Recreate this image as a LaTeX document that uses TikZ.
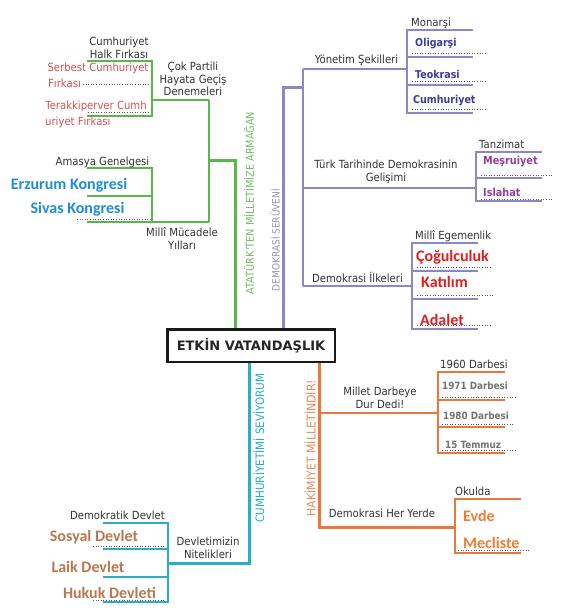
\documentclass[tikz,border=0pt]{standalone}
\usepackage{fontspec}
\setmainfont{DejaVu Sans}
\newfontfamily\nrw[FakeStretch=0.9]{DejaVu Sans}
\newfontfamily\nrwb[FakeStretch=0.88]{DejaVu Sans Bold}
\newfontfamily\calb{Carlito Bold}
\definecolor{txt}{RGB}{51,51,51}
\definecolor{grn}{RGB}{88,184,78}
\definecolor{grnl}{RGB}{110,190,100}
\definecolor{pur}{RGB}{140,136,200}
\definecolor{purl}{RGB}{150,146,200}
\definecolor{navy}{RGB}{60,60,160}
\definecolor{mag}{RGB}{150,60,160}
\definecolor{rd}{RGB}{225,30,30}
\definecolor{rdl}{RGB}{215,80,80}
\definecolor{blu}{RGB}{30,140,215}
\definecolor{cyn}{RGB}{40,175,200}
\definecolor{brn}{RGB}{185,120,80}
\definecolor{org}{RGB}{232,120,60}
\definecolor{orgt}{RGB}{238,125,50}
\definecolor{gry}{RGB}{115,115,115}
\definecolor{dotc}{RGB}{90,90,90}
\begin{document}
\begin{tikzpicture}[x=1pt,y=-1pt,
  every node/.style={inner sep=0pt,text=txt},
  nt/.style={font=\nrw\fontsize{11.2}{12.8}\selectfont},
  bt/.style={font=\nrwb\fontsize{#1}{14}\selectfont},
  ct/.style={font=\calb\fontsize{16}{18}\selectfont},
  rot/.style={rotate=90,font=\nrw\fontsize{#1}{12}\selectfont},
  trunk/.style={line width=3pt},
  branch/.style={line width=2.2pt},
  leaf/.style={line width=1.3pt},
  dots/.style={dotc,dotted,line width=0.6pt},
]
\fill[white] (0,0) rectangle (568,610);
\useasboundingbox (0,0) rectangle (568,610);

% central box (placed first for anchors, redrawn later on top)
\path node[minimum width=167.5pt,minimum height=32.5pt] (box) at (251,345.5) {};

% ---------- green branch ----------
\coordinate (gJ) at (235,160);
\coordinate (gA) at (209,100);
\coordinate (gB) at (209,222);
\draw[grn,trunk] (gJ |- box.north) -- (gJ) -- (gJ -| gA);
\draw[grn,line width=2.6pt] (gA) -- (gB);
\draw[grn,branch] (gA) -- (152,100);
\draw[grn,branch] (gB) -- (152,222);
\draw[grn,leaf] (87,61) -- (152,61) -- (152,116) -- (87,116);
\draw[grn,leaf] (87,168) -- (152,168) -- (152,222) -- (87,222);
\draw[grn,leaf] (87,196) -- (152,196);
\draw[dots] (83,84) -- (150,84);
\draw[dots] (88,112) -- (150,112);
\draw[dots] (77,219) -- (150,219);

\node[nt,align=center] (chf) at (119,48) {Cumhuriyet\\Halk Fırkası};
\node[nt,text=rdl] (scf1) at (98,68) {Serbest Cumhuriyet};
\node[nt,text=rdl,anchor=west] (scf2) at (48,83) {Fırkası};
\node[nt,text=rdl] (tcf1) at (96,106) {Terakkiperver Cumh};
\node[nt,text=rdl,anchor=west] (tcf2) at (45,122) {uriyet Fırkası};
\node[nt,align=center] (cok) at (193,79) {Çok Partili\\Hayata Geçiş\\Denemeleri};
\node[nt] (amasya) at (102.5,162) {Amasya Genelgesi};
\node[ct,text=blu] (erz) at (69,185) {Erzurum Kongresi};
\node[ct,text=blu] (sivas) at (77.5,209) {Sivas Kongresi};
\node[nt,align=center] (mmy) at (182,238.5) {Millî Mücadele\\Yılları};
\node[rot=10.8,text=grnl] (ata) at (249,203) {ATATÜRK'TEN MİLLETİMİZE ARMAĞAN};

% ---------- purple branch ----------
\coordinate (pT) at (283,87);
\coordinate (pI) at (303,87);
\draw[pur,trunk] (pT |- box.north) -- (pT) -- (pI);
\draw[pur,line width=2.5pt] (303,69) -- (303,286);
\draw[pur,branch] (303,69) -- (407,69);
\draw[pur,branch] (303,188) -- (476,188);
\draw[pur,branch] (303,286) -- (412,286);
\draw[pur,leaf] (473,30) -- (407,30) -- (407,113) -- (473,113);
\draw[pur,leaf] (407,57) -- (473,57);
\draw[pur,leaf] (407,85) -- (473,85);
\draw[pur,leaf] (542,152) -- (476,152) -- (476,201) -- (542,201);
\draw[pur,leaf] (476,178) -- (542,178);
\draw[pur,leaf] (478,243) -- (412,243) -- (412,329) -- (478,329);
\draw[pur,leaf] (412,271) -- (478,271);
\draw[pur,leaf] (412,299) -- (478,299);
\draw[dots] (412,53) -- (485,53);
\draw[dots] (412,81) -- (485,81);
\draw[dots] (412,109) -- (485,109);
\draw[dots] (481,175) -- (553,175);
\draw[dots] (481,199) -- (553,199);
\draw[dots] (417,267) -- (490,267);
\draw[dots] (417,295) -- (493,295);
\draw[dots] (417,325) -- (490,325);

\node[nt,anchor=west] (mon) at (411,23) {Monarşi};
\node[bt=10.8,text=navy,anchor=west] (oli) at (415,44) {Oligarşi};
\node[bt=10.8,text=navy,anchor=west] (teo) at (415,74) {Teokrasi};
\node[bt=10.8,text=navy,anchor=west] (cum) at (413,101) {Cumhuriyet};
\node[nt] (yon) at (356.5,60) {Yönetim Şekilleri};
\node[nt,anchor=west] (tan) at (479,144) {Tanzimat};
\node[bt=11,text=mag,anchor=west] (mes) at (483,162) {Meşruiyet};
\node[bt=11,text=mag,anchor=west] (isl) at (483,192) {Islahat};
\node[nt,align=center] (ttd) at (386,172) {Türk Tarihinde Demokrasinin\\Gelişimi};
\node[nt,anchor=west] (meg) at (415,236) {Millî Egemenlik};
\node[ct,text=rd,anchor=west] (cog) at (416,257) {Çoğulculuk};
\node[ct,text=rd,anchor=west] (kat) at (421,282) {Katılım};
\node[ct,text=rd,anchor=west] (ada) at (420,320) {Adalet};
\node[nt] (dil) at (357.5,277) {Demokrasi İlkeleri};
\node[rot=10,text=purl] (dem) at (275,240) {DEMOKRASİ SERÜVENİ};

% ---------- orange branch ----------
\coordinate (oT) at (319,527);
\coordinate (oE) at (455,527);
\draw[org,trunk] (oT |- box.south) -- (oT) -- (oE);
\draw[org,branch] (319,413) -- (438,413);
\draw[org,leaf] (505,372) -- (438,372) -- (438,453) -- (505,453);
\draw[org,leaf] (438,400) -- (505,400);
\draw[org,leaf] (438,427) -- (505,427);
\draw[org,leaf] (521,499) -- (455,499) -- (455,553) -- (521,553);
\draw[dots] (442,397) -- (515,397);
\draw[dots] (442,424) -- (513,424);
\draw[dots] (442,450) -- (515,450);
\draw[dots] (458,550) -- (530,550);

\node[nt,anchor=west] (d60) at (440,364) {1960 Darbesi};
\node[bt=10,text=gry,anchor=west] (d71) at (442,386) {1971 Darbesi};
\node[bt=10,text=gry,anchor=west] (d80) at (443,416) {1980 Darbesi};
\node[bt=10,text=gry,anchor=west] (t15) at (445,445) {15 Temmuz};
\node[nt,align=center] (mdd) at (380,397.5) {Millet Darbeye\\Dur Dedi!};
\node[nt,anchor=west] (oku) at (455,491) {Okulda};
\node[ct,text=orgt,anchor=west] (evd) at (463,516) {Evde};
\node[ct,text=orgt,anchor=west] (mec) at (463,543) {Mecliste};
\node[nt] (dhy) at (382,513) {Demokrasi Her Yerde};
\node[rot=12.2,text=org!85] (hak) at (310,448) {HAKİMİYET MİLLETİNDİR!};

% ---------- cyan branch ----------
\coordinate (cT) at (249,563);
\coordinate (cE) at (168,563);
\draw[cyn,trunk] (cT |- box.south) -- (cT) -- (cE);
\draw[cyn,leaf] (103,523) -- (168,523) -- (168,602) -- (103,602);
\draw[cyn,leaf] (103,549) -- (168,549);
\draw[cyn,leaf] (103,577) -- (168,577);
\draw[dots] (93,546) -- (165,546);
\draw[dots] (93,600) -- (165,600);

\node[nt] (ddv) at (117.5,515) {Demokratik Devlet};
\node[ct,text=brn] (sos) at (94,537) {Sosyal Devlet};
\node[ct,text=brn] (laik) at (88,567) {Laik Devlet};
\node[ct,text=brn] (huk) at (109.5,593) {Hukuk Devleti};
\node[nt,align=center] (dvn) at (208,547.5) {Devletimizin\\Nitelikleri};
\node[rot=11.6,text=cyn] (cums) at (259,448) {CUMHURİYETİMİ SEVİYORUM};

% ---------- central box on top ----------
\node[draw=black!90,line width=2.5pt,fill=white,minimum width=167.5pt,minimum height=32.5pt,
      font=\fontsize{13}{15}\selectfont\bfseries,text=black!85] at (box.center) {ETKİN VATANDAŞLIK};
\end{tikzpicture}
\end{document}
